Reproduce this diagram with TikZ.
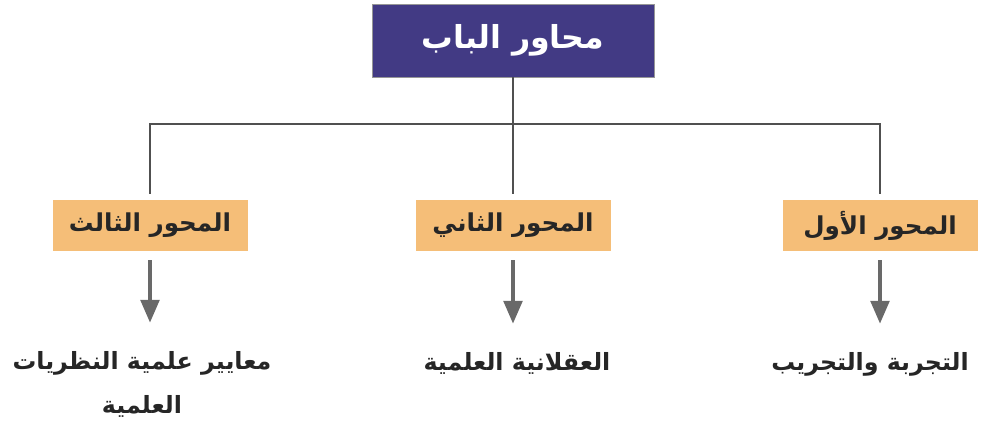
\documentclass[tikz,border=0pt]{standalone}
\usepackage{fontspec}
\newfontfamily\arabicfont[Script=Arabic]{DejaVu Sans}
\TeXXeTstate=1
\usepackage{tikz}
\usetikzlibrary{arrows.meta}
\definecolor{babpurple}{RGB}{66,58,132}
\definecolor{axisorange}{RGB}{245,190,120}
\definecolor{linkgray}{RGB}{80,80,80}
\definecolor{arrowgray}{RGB}{105,105,105}

\begin{document}
\begin{tikzpicture}[
	titlebox/.style = {fill=babpurple, draw=linkgray!60, minimum width=5.64cm, minimum height=1.46cm, text=white, font=\arabicfont\bfseries\fontsize{18}{22}\selectfont},
	axisbox/.style = {fill=axisorange, minimum width=3.9cm, minimum height=1.02cm, text=black!85, font=\arabicfont\bfseries\fontsize{14}{17}\selectfont},
	result/.style = {anchor=north, align=center, text=black!85, font=\arabicfont\bfseries\fontsize{13.5}{25}\selectfont},
	link/.style = {draw=linkgray, line width=1.3pt},
	down/.style = {draw=arrowgray, line width=2.8pt, shorten <=0.18cm, shorten >=0.44cm, -{Triangle[width=0.36cm, length=0.46cm]}}
	]
	\useasboundingbox (0,0) rectangle (19.76,8.7);
	\node[titlebox] (bab) at (10.26,7.89) {\beginR محاور الباب\endR};
	\coordinate (hub) at (10.26,6.22);
	\node[axisbox] (ax1) at (17.6,4.19) {\beginR المحور الأول\endR};
	\node[axisbox] (ax2) at (10.26,4.19) {\beginR المحور الثاني\endR};
	\node[axisbox] (ax3) at (3.0,4.19) {\beginR المحور الثالث\endR};
	\node[result] (res1) at (17.4,1.78) {\beginR التجربة والتجريب\endR};
	\node[result] (res2) at (10.34,1.78) {\beginR العقلانية العلمية\endR};
	\node[result] (res3) at (2.84,1.8) {\beginR معايير علمية النظريات\endR\\\beginR العلمية\endR};
	\draw[link] (bab) -- (hub);
	\draw[link, shorten >=0.12cm] (hub) -| (ax1.north);
	\draw[link, shorten >=0.12cm] (hub) -- (ax2.north);
	\draw[link, shorten >=0.12cm] (hub) -| (ax3.north);
	\draw[down] (ax1.south) -- (ax1.south |- res1.north);
	\draw[down] (ax2.south) -- (ax2.south |- res2.north);
	\draw[down] (ax3.south) -- (ax3.south |- res3.north);
\end{tikzpicture}
\end{document}
